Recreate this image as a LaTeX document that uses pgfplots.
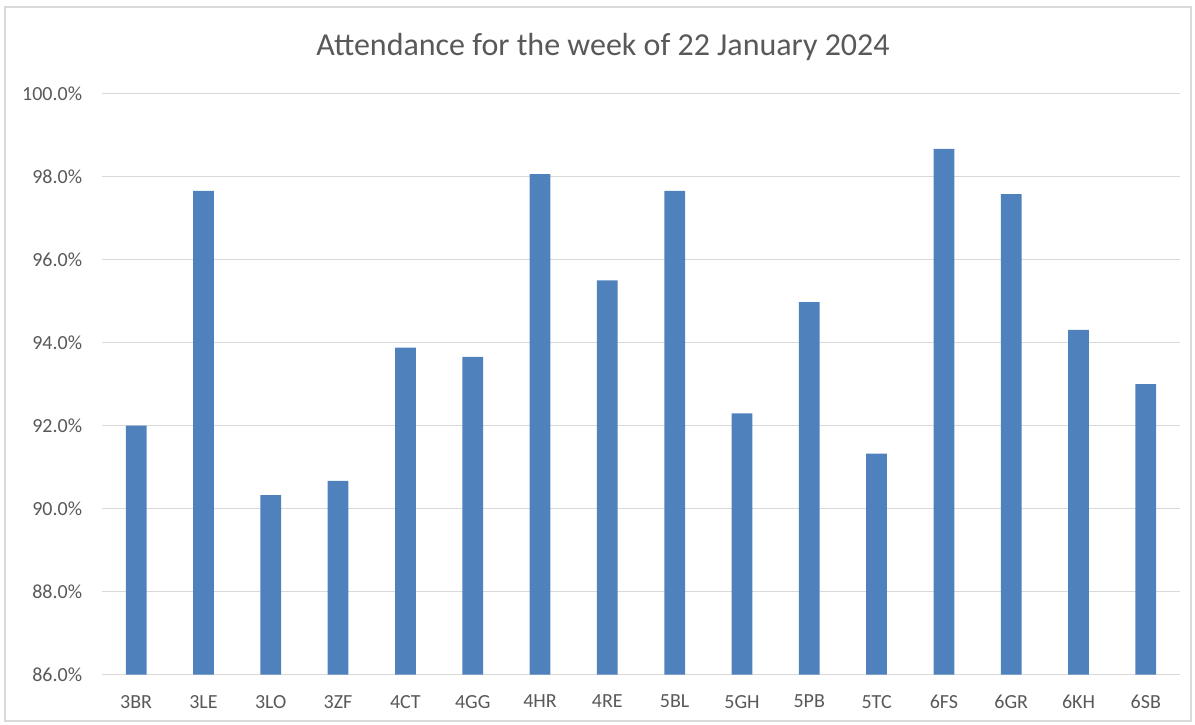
\documentclass[border=0pt]{standalone}
\usepackage{pgfplots}
\pgfplotsset{compat=1.18}
\usepackage{pgfplotstable}
\usepackage{fontspec}
\setmainfont{Carlito}
\definecolor{barblue}{HTML}{4F81BD}
\definecolor{txtgray}{HTML}{595959}
\definecolor{gridgray}{HTML}{D9D9D9}
\pgfplotstableread{
x y
0 92.00
1 97.66
2 90.33
3 90.67
4 93.88
5 93.66
6 98.06
7 95.50
8 97.66
9 92.30
10 94.98
11 91.33
12 98.67
13 97.58
14 94.31
15 93.00
}\attendance
\begin{document}
\begin{tikzpicture}
\useasboundingbox (0,0) rectangle (597.5pt,362pt);
\draw[gridgray, line width=0.6pt] (2.5pt,1.5pt) rectangle (595.5pt,358.5pt);
\begin{axis}[
  at={(51.25pt,24.65pt)}, anchor=south west,
  scale only axis, width=538.5pt, height=290.5pt,
  xmin=-0.5, xmax=15.5, ymin=86, ymax=100,
  ytick={86,88,...,100},
  xtick={0,...,15},
  xticklabels={3BR,3LE,3LO,3ZF,4CT,4GG,4HR,4RE,5BL,5GH,5PB,5TC,6FS,6GR,6KH,6SB},
  axis line style={draw=none},
  major tick length=0pt,
  ymajorgrids, major grid style={gridgray, line width=0.7pt},
  /pgf/number format/assume math mode=true,
  yticklabel={\pgfmathprintnumber[fixed,fixed zerofill,precision=1]{\tick}\%},
  ticklabel style={font=\fontsize{10}{12}\selectfont, text=txtgray},
  yticklabel style={inner sep=0pt, anchor=east, xshift=-10pt},
  xticklabel style={inner sep=0pt, anchor=north, yshift=-10pt},
  clip=true,
]
\addplot[ybar, bar width=10.4pt, fill=barblue, draw=none] table[x=x,y=y] {\attendance};
\end{axis}
\node[anchor=base, font=\fontsize{16}{19}\selectfont, text=txtgray] at (301.5pt,334pt) {Attendance for the week of 22 January 2024};
\end{tikzpicture}
\end{document}
